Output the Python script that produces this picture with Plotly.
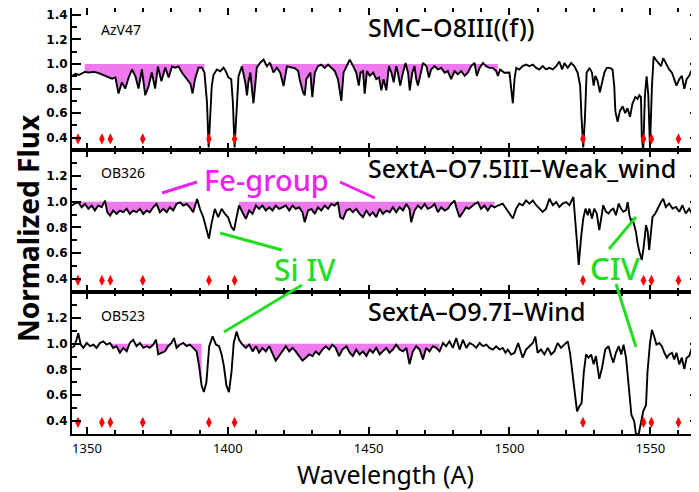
import plotly.graph_objects as go
from plotly.subplots import make_subplots
import numpy as np

# ---------------- data ----------------
azv47_spec = [
(1344.7,0.90),(1345.9,0.92),(1347.1,0.91),(1349.2,0.935),(1350.6,0.93),(1352.5,0.935),(1354.2,0.925),
(1356.5,0.90),(1358.9,0.88),(1360.1,0.89),(1361.2,0.76),(1362.4,0.85),(1363.6,0.80),(1364.8,0.89),
(1366.0,0.955),(1367.2,0.90),(1368.3,0.80),(1369.5,0.955),(1370.7,0.745),(1371.9,0.82),(1373.0,0.93),
(1374.2,0.80),(1375.2,0.98),(1376.4,0.86),(1377.8,0.97),(1379.0,0.89),(1380.2,0.98),(1381.3,0.97),
(1382.5,0.98),(1383.7,0.93),(1385.5,0.88),(1386.7,0.84),(1387.5,0.76),(1388.4,0.88),(1389.6,0.97),
(1390.8,0.97),(1391.7,0.93),(1392.6,0.69),(1393.2,0.32),(1394.3,0.82),(1394.9,0.91),(1396.1,0.955),
(1397.3,0.94),(1398.5,0.97),(1399.3,0.94),(1400.2,0.89),(1401.2,0.876),(1401.8,0.69),(1402.4,0.32),
(1403.2,0.69),(1403.8,0.90),(1405.0,0.98),(1406.2,0.85),(1406.8,0.745),(1407.3,0.85),(1408.0,0.93),
(1409.1,0.68),(1409.7,0.82),(1410.3,0.97),(1411.5,1.01),(1412.7,1.035),(1413.9,0.98),(1415.0,1.01),
(1416.2,0.93),(1417.4,0.97),(1418.6,0.93),(1419.8,0.82),(1421.0,0.98),(1422.7,0.97),(1423.8,0.965),
(1425.0,0.942),(1425.5,0.876),(1426.7,0.77),(1427.3,0.745),(1427.9,0.876),(1428.5,0.903),(1429.3,0.929),
(1430.0,0.73),(1430.9,0.929),(1432.0,0.982),(1433.2,0.995),(1434.4,0.968),(1435.6,0.995),(1436.8,0.968),
(1438.0,0.942),(1439.1,0.876),(1440.3,0.70),(1441.1,0.929),(1442.1,0.982),(1443.3,1.035),(1444.5,0.982),
(1445.6,0.929),(1446.5,0.824),(1447.1,0.929),(1448.0,0.942),(1448.6,0.758),(1449.4,0.942),(1450.4,0.903),
(1451.6,0.929),(1452.7,0.876),(1453.7,0.89),(1454.5,0.785),(1455.3,0.876),(1456.3,0.785),(1457.2,0.982),
(1458.1,0.929),(1458.9,0.85),(1459.8,0.982),(1460.4,0.929),(1461.2,0.824),(1462.2,0.929),(1463.1,1.008),
(1464.0,0.929),(1464.6,0.785),(1465.5,0.929),(1466.3,0.982),(1466.9,0.876),(1467.5,0.824),(1468.3,0.903),
(1469.3,1.008),(1470.5,0.982),(1471.4,0.89),(1472.2,0.955),(1473.4,0.982),(1474.6,0.955),(1475.8,0.968),
(1477.0,0.929),(1478.1,0.942),(1479.3,0.876),(1480.5,0.942),(1481.7,0.916),(1482.9,0.942),(1484.1,0.903),
(1485.2,0.929),(1486.4,0.982),(1487.6,1.008),(1488.4,0.903),(1489.4,0.968),(1490.6,1.008),(1491.7,0.982),
(1492.9,0.968),(1494.1,0.968),(1495.3,0.942),(1495.9,0.903),(1496.7,0.955),(1498.2,0.929),(1500.0,0.93),
(1501.2,0.68),(1501.8,0.876),(1502.4,0.968),(1503.5,0.955),(1504.7,0.982),(1505.9,0.995),(1507.1,0.982),
(1508.3,0.995),(1509.5,0.968),(1510.6,0.955),(1511.8,0.982),(1513.0,0.955),(1514.2,0.968),(1515.4,0.955),
(1516.6,0.982),(1517.7,1.02),(1518.7,0.955),(1519.5,1.008),(1520.7,0.968),(1521.9,1.008),(1523.0,0.982),
(1524.2,0.929),(1525.1,0.824),(1525.6,0.56),(1526.2,0.32),(1526.8,0.56),(1527.4,0.929),(1528.4,0.968),
(1529.3,0.929),(1529.9,0.824),(1530.5,0.903),(1531.3,0.863),(1532.1,0.77),(1532.9,0.85),(1533.7,0.929),
(1534.5,0.968),(1535.7,0.968),(1536.6,0.955),(1537.2,0.824),(1537.6,0.616),(1538.4,0.53),(1539.2,0.616),
(1540.2,0.655),(1541.1,0.60),(1541.9,0.64),(1542.8,0.57),(1543.7,0.68),(1544.7,0.73),(1545.5,0.715),
(1546.1,0.745),(1546.7,0.73),(1547.0,0.40),(1547.5,0.30),(1548.1,0.745),(1548.7,0.90),(1549.3,0.745),
(1549.9,0.32),(1550.6,0.824),(1551.2,1.06),(1552.0,1.034),(1553.0,1.008),(1553.8,0.982),(1554.6,1.047),
(1555.5,1.008),(1556.7,0.955),(1557.7,0.929),(1558.5,0.876),(1559.3,0.824),(1560.3,0.876),(1561.2,0.903),
(1562.1,0.797),(1562.9,0.876),(1563.8,0.903),(1564.8,0.955),(1565.6,0.929),(1566.2,0.982),(1567.3,0.93),
]

ob326_spec = [
(1344.7,0.97),(1345.4,0.982),(1346.9,0.995),(1348.1,0.956),(1349.3,0.982),(1350.5,0.944),(1351.7,0.97),
(1352.8,0.931),(1354.0,0.97),(1355.2,0.956),(1356.4,1.008),(1357.2,0.918),(1358.2,0.892),(1359.3,0.931),
(1360.5,0.905),(1361.7,0.931),(1362.9,0.918),(1364.1,0.944),(1365.2,0.905),(1366.4,0.931),(1367.6,0.918),
(1368.8,0.944),(1370.0,0.905),(1371.2,0.931),(1372.3,0.918),(1373.5,0.956),(1374.7,0.982),(1375.9,0.918),
(1377.1,0.944),(1378.3,0.918),(1379.4,0.956),(1380.6,0.931),(1381.8,0.982),(1383.0,0.995),(1384.2,0.97),
(1385.4,0.982),(1386.5,0.956),(1387.7,0.918),(1389.1,1.02),(1390.1,0.944),(1391.3,0.879),(1392.4,0.777),
(1393.3,0.713),(1394.2,0.828),(1395.4,0.944),(1396.6,0.879),(1397.8,0.944),(1399.0,0.905),(1400.1,0.879),
(1401.3,0.803),(1402.2,0.777),(1403.1,0.879),(1404.0,0.97),(1405.2,0.918),(1406.4,0.866),(1407.6,0.931),
(1408.8,0.905),(1410.0,0.97),(1411.1,0.944),(1412.3,0.97),(1413.5,0.931),(1414.7,0.956),(1415.9,0.931),
(1417.0,0.97),(1418.2,0.944),(1419.4,0.956),(1420.6,0.97),(1421.8,0.931),(1423.0,0.97),(1424.1,0.944),
(1425.3,0.956),(1426.5,0.918),(1427.3,0.841),(1428.5,0.931),(1429.7,0.944),(1430.9,0.905),(1432.0,0.956),
(1433.2,0.931),(1434.4,0.97),(1435.6,0.944),(1436.8,0.982),(1437.9,0.97),(1439.1,0.995),(1439.9,0.879),
(1440.9,0.866),(1442.1,0.931),(1443.3,0.944),(1444.4,0.918),(1445.6,0.944),(1446.8,0.905),(1448.0,0.879),
(1449.2,0.931),(1450.4,0.892),(1451.5,0.918),(1452.7,0.879),(1453.9,0.944),(1455.1,0.905),(1456.3,0.931),
(1457.5,0.918),(1458.6,0.956),(1459.8,0.918),(1461.0,0.956),(1462.2,0.931),(1463.4,0.982),(1464.5,0.944),
(1465.1,0.841),(1466.3,0.931),(1467.5,0.97),(1468.7,0.944),(1469.9,0.982),(1471.0,0.944),(1472.2,0.956),
(1473.4,0.982),(1474.6,0.918),(1475.8,0.956),(1477.0,0.931),(1478.1,0.944),(1479.3,0.982),(1480.5,1.008),
(1481.1,0.956),(1482.3,0.879),(1483.5,0.918),(1484.6,0.956),(1485.6,0.944),(1487.6,0.982),(1488.8,0.995),
(1489.9,0.944),(1491.1,0.97),(1492.3,0.931),(1493.5,0.97),(1494.7,0.956),(1495.9,0.97),(1497.6,0.985),
(1500.0,0.908),(1501.2,0.869),(1502.4,0.946),(1503.5,0.985),(1504.7,0.972),(1505.9,1.01),(1507.1,0.985),
(1508.3,1.01),(1509.5,0.972),(1510.6,0.946),(1511.8,0.921),(1513.0,0.946),(1514.2,1.023),(1515.4,0.972),
(1516.6,0.997),(1517.7,0.959),(1518.9,0.985),(1520.1,0.997),(1521.3,0.972),(1522.7,1.036),(1523.4,0.844),
(1524.0,0.638),(1524.6,0.51),(1525.4,0.715),(1526.2,0.869),(1527.0,0.946),(1527.8,0.895),(1528.4,0.946),
(1529.3,0.869),(1530.1,0.946),(1531.0,0.908),(1531.9,0.779),(1532.5,0.869),(1533.3,0.972),(1534.3,0.921),
(1535.2,0.908),(1536.0,0.934),(1536.9,0.946),(1537.8,0.895),(1538.8,0.985),(1539.6,0.946),(1540.4,0.921),
(1541.4,0.934),(1542.0,0.997),(1542.6,0.895),(1543.2,0.844),(1543.7,0.869),(1544.3,0.818),(1544.9,0.767),
(1545.5,0.677),(1546.1,0.613),(1547.0,0.549),(1547.6,0.638),(1548.5,0.818),(1549.1,0.767),(1549.6,0.625),
(1550.2,0.767),(1550.8,0.882),(1551.8,0.908),(1552.6,0.946),(1553.8,0.997),(1554.6,1.023),(1555.5,0.959),
(1556.7,0.985),(1557.9,0.946),(1559.1,0.959),(1560.3,0.921),(1561.4,0.972),(1562.6,0.908),(1563.8,0.946),
(1565.0,0.895),(1566.2,0.959),(1567.3,0.946),
]

ob523_spec = [
(1344.7,0.97),(1345.4,0.98),(1346.3,1.03),(1346.9,1.081),(1347.8,0.992),(1348.7,0.967),(1349.9,1.005),
(1351.1,0.98),(1352.3,0.992),(1353.4,0.967),(1354.6,1.005),(1355.8,1.018),(1357.0,0.992),(1358.2,1.005),
(1359.3,0.967),(1360.5,0.98),(1361.7,0.93),(1362.9,0.967),(1364.1,0.94),(1365.2,1.005),(1366.4,1.03),
(1367.6,0.98),(1368.8,1.005),(1370.0,0.967),(1371.2,0.98),(1372.3,0.967),(1373.5,0.992),(1374.5,1.03),
(1375.3,0.916),(1376.5,0.93),(1377.7,0.94),(1378.8,0.98),(1380.0,1.005),(1380.9,1.043),(1381.8,0.967),
(1383.0,0.992),(1384.2,1.005),(1385.4,0.98),(1386.5,0.992),(1387.7,0.967),(1388.9,0.94),(1389.8,0.828),
(1390.7,0.676),(1391.5,0.625),(1392.4,0.70),(1393.4,0.98),(1394.6,1.056),(1395.8,0.992),(1396.9,0.98),
(1397.8,0.916),(1398.6,0.828),(1399.5,0.676),(1400.4,0.625),(1401.3,0.777),(1402.1,1.005),(1403.1,1.093),
(1404.0,1.03),(1405.2,0.992),(1406.4,0.967),(1407.6,0.992),(1408.8,0.94),(1410.0,0.98),(1411.1,0.93),
(1412.3,0.967),(1413.5,0.94),(1414.7,0.98),(1415.9,0.916),(1417.0,0.868),(1418.2,0.904),(1419.4,0.94),
(1420.6,0.98),(1421.8,0.94),(1423.0,0.967),(1424.1,0.94),(1425.3,0.904),(1426.5,0.868),(1427.7,0.891),
(1428.9,0.916),(1430.1,0.904),(1431.2,0.94),(1432.4,0.916),(1433.6,0.954),(1434.8,0.98),(1436.0,0.954),
(1437.1,0.992),(1438.3,0.967),(1439.5,0.904),(1440.7,0.954),(1442.1,0.98),(1443.3,0.93),(1444.4,0.904),
(1445.6,0.954),(1446.8,0.916),(1448.0,0.94),(1449.2,0.904),(1450.4,0.954),(1451.5,0.93),(1452.7,0.967),
(1453.9,0.916),(1455.1,0.94),(1456.3,0.967),(1457.4,0.93),(1458.6,0.954),(1459.8,0.992),(1461.0,0.954),
(1462.2,0.94),(1463.4,0.967),(1464.5,0.841),(1465.7,0.94),(1466.9,0.98),(1468.1,0.954),(1469.3,0.878),
(1470.4,0.967),(1471.6,0.94),(1472.8,0.98),(1474.0,0.967),(1475.2,0.94),(1476.4,1.005),(1477.5,0.98),
(1478.7,1.018),(1479.9,0.967),(1481.1,1.043),(1482.3,0.954),(1483.5,1.03),(1484.7,0.967),(1485.8,1.005),
(1487.0,0.992),(1488.2,0.967),(1489.4,1.005),(1490.6,0.98),(1491.8,0.992),(1492.9,0.967),(1494.1,0.954),
(1495.3,0.98),(1496.5,0.954),(1497.6,0.967),(1498.6,0.929),(1499.4,0.954),(1500.6,0.916),(1501.8,0.929),
(1503.1,1.005),(1503.8,0.954),(1504.7,0.891),(1505.9,0.954),(1507.1,0.98),(1508.3,1.005),(1509.2,1.055),
(1510.0,0.929),(1511.2,0.954),(1512.4,0.916),(1513.6,0.967),(1514.8,0.916),(1516.0,0.942),(1517.1,1.005),
(1518.3,0.967),(1519.5,0.992),(1520.7,1.018),(1521.5,0.929),(1522.5,0.752),(1523.4,0.60),(1524.0,0.475),
(1524.8,0.513),(1525.6,0.538),(1526.4,0.778),(1527.2,0.916),(1528.1,0.891),(1529.0,0.916),(1529.9,0.84),
(1530.7,0.904),(1531.9,0.727),(1532.9,0.815),(1534.0,0.954),(1535.2,0.98),(1536.1,0.904),(1536.9,0.853),
(1537.8,0.929),(1538.8,0.98),(1539.7,0.916),(1540.5,0.992),(1541.4,0.891),(1542.3,0.677),(1543.3,0.449),
(1544.3,0.398),(1544.9,0.30),(1545.9,0.30),(1546.7,0.398),(1547.5,0.475),(1548.5,0.525),(1549.0,0.778),
(1549.9,1.005),(1550.6,1.106),(1551.4,1.055),(1552.2,0.992),(1553.2,1.005),(1554.1,0.98),(1555.0,0.929),
(1555.9,0.891),(1556.7,0.916),(1557.7,0.929),(1558.5,0.878),(1559.3,0.929),(1560.3,0.84),(1561.2,0.891),
(1562.1,0.803),(1562.9,0.891),(1563.8,0.904),(1564.8,0.967),(1565.6,0.929),(1566.4,0.98),(1567.3,0.954),
]

spectra = [azv47_spec, ob326_spec, ob523_spec]
star_ids = ["AzV47", "OB326", "OB523"]
sp_types = ["SMC–O8III((f))", "SextA–O7.5III–Weak_wind", "SextA–O9.7I–Wind"]

# Fe-group shaded windows (wavelength ranges) per panel
fe_windows = [
    [(1349.2, 1391.7), (1405.0, 1496.5)],
    [(1346.5, 1389.1), (1404.0, 1495.0)],
    [(1358.0, 1391.0), (1404.0, 1475.2)],
]
continuum_level = 1.0

# interstellar line markers
ism_lines = [1346.8, 1355.3, 1358.3, 1369.8, 1393.3, 1402.4, 1526.1, 1547.6, 1550.4, 1560.0]
ism_marker_level = 0.39

x_ticks = [1350, 1400, 1450, 1500, 1550]
y_ranges = [[0.3, 1.455], [0.3, 1.4], [0.3, 1.4]]
y_ticks = [[0.4, 0.6, 0.8, 1.0, 1.2, 1.4], [0.4, 0.6, 0.8, 1.0, 1.2], [0.4, 0.6, 0.8, 1.0, 1.2]]
x_range = [1344.68, 1567.3]

# ---------------- figure ----------------
OFF = 8                       # page body margin of the browser
SW, SH = 699, 492             # screen size
W, H = SW - OFF, SH - OFF
ML, MR, MT, MB = 72 - OFF, 0, 0, SH - 434
fig = make_subplots(rows=3, cols=1, shared_xaxes=True, vertical_spacing=0)

FILL = "rgba(238,120,238,1)"
for i, spec in enumerate(spectra):
    row = i + 1
    wl = np.array([p[0] for p in spec])
    fl = np.array([p[1] for p in spec])
    for (a, b) in fe_windows[i]:
        m = (wl >= a) & (wl <= b)
        fig.add_trace(go.Scatter(x=wl[m], y=np.full(m.sum(), continuum_level), mode="lines",
                                 line=dict(width=0, color=FILL), hoverinfo="skip", showlegend=False),
                      row=row, col=1)
        fig.add_trace(go.Scatter(x=wl[m], y=np.minimum(fl[m], continuum_level), mode="lines",
                                 line=dict(width=0, color=FILL), fill="tonexty", fillcolor=FILL,
                                 hoverinfo="skip", showlegend=False),
                      row=row, col=1)
    fig.add_trace(go.Scatter(x=wl, y=fl, mode="lines", line=dict(color="black", width=1.9),
                             showlegend=False), row=row, col=1)
    fig.add_trace(go.Scatter(x=ism_lines, y=[ism_marker_level] * len(ism_lines), mode="markers",
                             marker=dict(symbol="diamond-tall", size=8, color="red"),
                             showlegend=False), row=row, col=1)

axis_common = dict(showline=True, linecolor="black", linewidth=2, mirror="ticks",
                   ticks="inside", tickcolor="black", showgrid=False, zeroline=False,
                   automargin=False, ticklabeloverflow="allow")
for i in range(3):
    row = i + 1
    fig.update_xaxes(range=x_range, tickvals=x_ticks, ticklen=7, tickwidth=1.5,
                     minor=dict(ticks="inside", dtick=10, tick0=1350, ticklen=4, tickcolor="black", showgrid=False),
                     tickfont=dict(family="Noto Sans", size=13, color="black"), ticklabelstandoff=1,
                     row=row, col=1, **axis_common)
    fig.update_yaxes(range=y_ranges[i], tickvals=y_ticks[i], ticktext=[f"{v:.1f}" for v in y_ticks[i]],
                     ticklen=9, tickwidth=1.5,
                     minor=dict(ticks="inside", tickvals=[0.3, 0.5, 0.7, 0.9, 1.1, 1.3], ticklen=5,
                                tickcolor="black", showgrid=False),
                     tickfont=dict(family="DejaVu Sans", size=12, color="black", weight="bold"),
                     row=row, col=1, **axis_common)

PW, PH = W - ML - MR, H - MT - MB
def px(xs):   # screen pixel -> paper
    return (xs - OFF - ML) / PW
def py(ys):
    return (H - MB - (ys - OFF)) / PH

ann = []
id_y = [29, 172, 315]
type_y = [27, 168, 311]
for i in range(3):
    ann.append(dict(x=px(99), y=py(id_y[i]), xref="paper", yref="paper", text=star_ids[i], showarrow=False,
                    xanchor="left", yanchor="middle", font=dict(family="Noto Sans", size=14, color="black")))
    ann.append(dict(x=px(366), y=py(type_y[i]), xref="paper", yref="paper", text=sp_types[i], showarrow=False,
                    xanchor="left", yanchor="middle", font=dict(family="Noto Sans", size=25, color="black", weight=500)))

MAG = "#EE22EE"
GRN = "#22DD22"
def centered(xs, ys, text, font, **kw):
    return dict(x=px(xs), y=py(ys), xref="paper", yref="paper", text=text, showarrow=False,
                xanchor="center", yanchor="middle", font=font, **kw)

ann.append(centered(266, 179, "Fe-group", dict(family="Noto Sans", size=29, color=MAG, weight=500)))
ann.append(centered(305, 269, "Si IV", dict(family="Noto Sans", size=30, color=GRN, weight=500)))
ann.append(centered(615, 268, "CIV", dict(family="Noto Sans", size=31, color=GRN, weight=500)))
ann.append(centered(28, 228, "Normalized Flux", dict(family="Noto Sans", size=28, color="black", weight="bold"),
                    textangle=-90))
ann.append(centered(385, 474, "Wavelength (A)", dict(family="Noto Sans", size=25, color="black")))

segs = [
    ((162, 193), (197, 182), MAG), ((340, 182), (375, 198), MAG),
    ((220, 233), (282, 250), GRN), ((224, 332), (302, 285), GRN),
    ((609, 249), (636, 217), GRN), ((616, 284), (636, 347), GRN),
]
shapes = []
for (a, b, c) in segs:
    shapes.append(dict(type="line", xref="paper", yref="paper", x0=px(a[0]), y0=py(a[1]),
                       x1=px(b[0]), y1=py(b[1]), line=dict(color=c, width=3)))

fig.update_layout(width=W, height=H, margin=dict(l=ML, r=MR, t=MT, b=MB, autoexpand=False),
                  paper_bgcolor="white", plot_bgcolor="white", annotations=ann, shapes=shapes,
                  showlegend=False)
fig.write_html("out.html")
